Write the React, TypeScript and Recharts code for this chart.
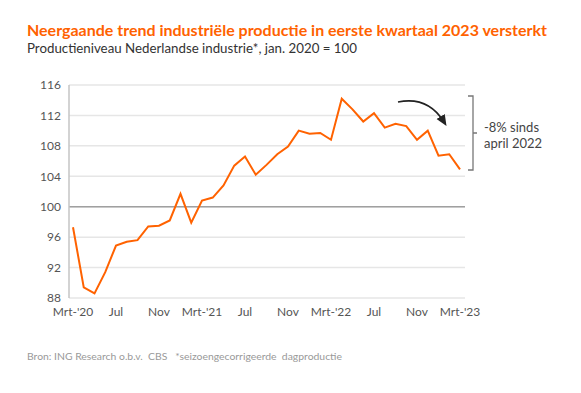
import { LineChart, Line, XAxis, YAxis, CartesianGrid, ReferenceLine } from 'recharts'

// maand-index 0 = maart 2020, 36 = maart 2023
const months = [
  '2020-03', '2020-04', '2020-05', '2020-06', '2020-07', '2020-08', '2020-09', '2020-10', '2020-11', '2020-12',
  '2021-01', '2021-02', '2021-03', '2021-04', '2021-05', '2021-06', '2021-07', '2021-08', '2021-09', '2021-10',
  '2021-11', '2021-12', '2022-01', '2022-02', '2022-03', '2022-04', '2022-05', '2022-06', '2022-07', '2022-08',
  '2022-09', '2022-10', '2022-11', '2022-12', '2023-01', '2023-02', '2023-03',
]

const production = [
  97.3, 89.4, 88.6, 91.4, 94.9, 95.4, 95.6, 97.4, 97.5, 98.2,
  101.7, 97.9, 100.8, 101.2, 102.8, 105.4, 106.6, 104.2, 105.5, 106.9,
  107.9, 110.0, 109.6, 109.7, 108.8, 114.2, 112.8, 111.2, 112.3, 110.4,
  110.9, 110.6, 108.8, 110.0, 106.7, 106.9, 104.9,
]

const xTicks = ['2020-03', '2020-07', '2020-11', '2021-03', '2021-07', '2021-11', '2022-03', '2022-07', '2022-11', '2023-03']
const xTickLabels = ["Mrt-'20", 'Jul', 'Nov', "Mrt-'21", 'Jul', 'Nov', "Mrt-'22", 'Jul', 'Nov', "Mrt-'23"]
const yTicks = [88, 92, 96, 100, 104, 108, 112, 116]

const data = months.map((m, i) => ({ month: m, value: production[i] }))

const ORANGE = '#FF6200'
const FONT = 'Lato, "Open Sans", sans-serif'

export default function App() {
  return (
    <div style={{ position: 'absolute', left: 0, top: 0, width: 581, height: 393, background: '#fff', fontFamily: FONT }}>
      <LineChart width={581} height={393} data={data} margin={{ top: 85, right: 116, bottom: 65, left: 29 }}>
        <CartesianGrid vertical={false} stroke="#e6e6e6" strokeWidth={1.5} />
        <XAxis
          dataKey="month"
          ticks={xTicks}
          interval={0}
          tickFormatter={(v: string) => xTickLabels[xTicks.indexOf(v)]}
          axisLine={false}
          tickLine={false}
          tickMargin={3}
          padding={{ left: 4, right: 5 }}
          tick={{ fontSize: 12, fill: '#555', fontFamily: FONT }}
          height={30}
        />
        <YAxis
          domain={[88, 116]}
          ticks={yTicks}
          width={40}
          tickLine={false}
          tickMargin={2}
          axisLine={{ stroke: '#c4c4c4', strokeWidth: 1.5 }}
          tick={{ fontSize: 12, fill: '#555', fontFamily: FONT }}
        />
        <ReferenceLine y={100} stroke="#a0a0a0" strokeWidth={1.5} />
        <Line type="linear" dataKey="value" stroke={ORANGE} strokeWidth={2} dot={false} isAnimationActive={false} />
      </LineChart>
      <svg width={581} height={393} style={{ position: 'absolute', left: 0, top: 0, pointerEvents: 'none' }}>
        <defs>
          <marker id="ah" markerWidth="8" markerHeight="8" refX="4" refY="4" orient="auto">
            <path d="M0,1 L7,4 L0,7 Z" fill="#222" />
          </marker>
        </defs>
        <text x={27} y={36} fill={ORANGE} fontSize={15} fontWeight={700} fontFamily={FONT} textLength={520} lengthAdjust="spacingAndGlyphs">
          Neergaande trend industriële productie in eerste kwartaal 2023 versterkt
        </text>
        <text x={27} y={53} fill="#333" fontSize={13} fontFamily={FONT} textLength={330} lengthAdjust="spacingAndGlyphs">
          Productieniveau Nederlandse industrie*, jan. 2020 = 100
        </text>
        <path d="M398,102 Q428,96 444,122" fill="none" stroke="#222" strokeWidth={1.6} markerEnd="url(#ah)" />
        <path d="M468,96 L473,96 L473,170 L468,170 M473,133 L477,133" fill="none" stroke="#777" strokeWidth={1.3} />
        <text x={484} y={132} fill="#444" fontSize={13} fontFamily={FONT}>-8% sinds</text>
        <text x={484} y={148} fill="#444" fontSize={13} fontFamily={FONT}>april 2022</text>
        <text x={27} y={360} fill="#999" fontSize={9.5} fontFamily={FONT} style={{ whiteSpace: 'pre' }} textLength={315} lengthAdjust="spacingAndGlyphs">
          {'Bron: ING Research o.b.v.  CBS   *seizoengecorrigeerde  dagproductie'}
        </text>
      </svg>
    </div>
  )
}
